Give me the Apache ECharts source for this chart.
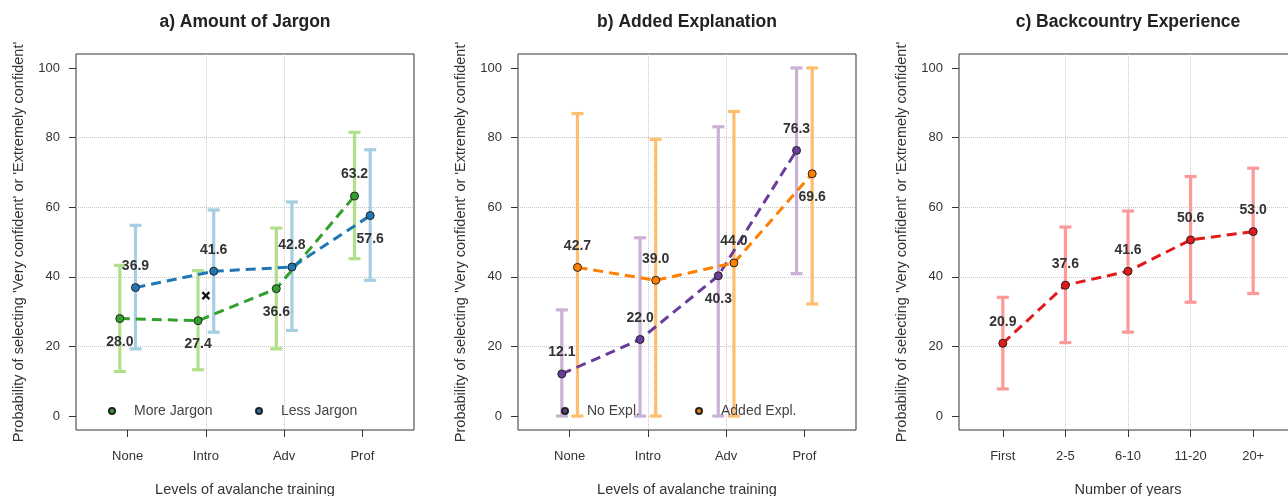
<!DOCTYPE html>
<html>
<head>
<meta charset="utf-8">
<script src="https://cdn.jsdelivr.net/npm/echarts@6/dist/echarts.min.js"></script>
<style>html,body{margin:0;padding:0;background:#fff;}#chart{width:1288px;height:496px;}</style>
</head>
<body>
<div id="chart"></div>
<script>
// ---- data ----
const categoriesTraining = ['None', 'Intro', 'Adv', 'Prof'];
const categoriesYears = ['First', '2-5', '6-10', '11-20', '20+'];
const yTicks = [0, 20, 40, 60, 80, 100];

const moreJargon = [28.0, 27.4, 36.6, 63.2];
const moreJargonLow = [12.8, 13.3, 19.3, 45.2];
const moreJargonHigh = [43.3, 41.8, 54.0, 81.5];
const lessJargon = [36.9, 41.6, 42.8, 57.6];
const lessJargonLow = [19.3, 24.1, 24.6, 39.0];
const lessJargonHigh = [54.8, 59.2, 61.5, 76.5];
const crossMarker = [[2, 34.6]];

const noExpl = [12.1, 22.0, 40.3, 76.3];
const noExplLow = [0, 0, 0, 40.9];
const noExplHigh = [30.5, 51.2, 83.1, 100];
const addedExpl = [42.7, 39.0, 44.0, 69.6];
const addedExplLow = [0, 0, 0, 32.2];
const addedExplHigh = [86.9, 79.5, 87.5, 100];

const experience = [20.9, 37.6, 41.6, 50.6, 53.0];
const experienceLow = [7.8, 21.1, 24.1, 32.7, 35.2];
const experienceHigh = [34.1, 54.3, 58.9, 68.8, 71.2];

// ---- styling ----
const FONT = "'Liberation Sans', Arial, sans-serif";
const OFF = 0.1;
const labelPos = {
  more: ['bottom', 'bottom', 'bottom', 'top'],
  less: ['top', 'top', 'top', 'bottom'],
  noE: ['top', 'top', 'bottom', 'top'],
  addE: ['top', 'top', 'top', 'bottom'],
  exp: ['top', 'top', 'top', 'top', 'top']
};

const panels = [
  {left: 76, min: 0.34, max: 4.66, cats: categoriesTraining, xname: 'Levels of avalanche training', title: 'a) Amount of Jargon'},
  {left: 518, min: 0.34, max: 4.66, cats: categoriesTraining, xname: 'Levels of avalanche training', title: 'b) Added Explanation'},
  {left: 959, min: 0.3, max: 5.7, cats: categoriesYears, xname: 'Number of years', title: 'c) Backcountry Experience'}
];
const W = 338, TOP = 54, H = 376;

const grids = [], xAxes = [], yAxes = [], graphics = [];
panels.forEach((p, i) => {
  grids.push({left: p.left, top: TOP, width: W, height: H, show: true, borderColor: '#333', borderWidth: 1,
    backgroundColor: 'transparent', containLabel: false, outerBoundsMode: 'none'});
  const ticks = p.cats.map((c, k) => k + 1);
  xAxes.push({
    type: 'value', gridIndex: i, min: p.min, max: p.max,
    name: p.xname, nameLocation: 'middle', nameGap: 52,
    nameTextStyle: {fontFamily: FONT, fontSize: 14.5, color: '#333'},
    axisLine: {show: false, onZero: false},
    axisTick: {show: true, length: 7, customValues: ticks, lineStyle: {color: '#333'}},
    axisLabel: {customValues: ticks, margin: 20, fontFamily: FONT, fontSize: 13, color: '#333',
      formatter: v => (Math.abs(v - Math.round(v)) < 1e-6 && p.cats[Math.round(v) - 1]) ? p.cats[Math.round(v) - 1] : ''},
    splitLine: {show: true, showMinLine: false, showMaxLine: false, lineStyle: {type: 'dotted', color: '#c8c8c8', width: 1}}
  });
  yAxes.push({
    type: 'value', gridIndex: i, min: -4, max: 104,
    name: "Probability of selecting 'Very confident' or 'Extremely confident'",
    nameLocation: 'middle', nameRotate: 90, nameGap: 50,
    nameTextStyle: {fontFamily: FONT, fontSize: 14.5, color: '#333'},
    axisLine: {show: false, onZero: false},
    axisTick: {show: true, length: 7, customValues: yTicks, lineStyle: {color: '#333'}},
    axisLabel: {customValues: yTicks, margin: 16, fontFamily: FONT, fontSize: 13, color: '#333'},
    splitLine: {show: true, showMinLine: false, showMaxLine: false, lineStyle: {type: 'dotted', color: '#c8c8c8', width: 1}}
  });
  graphics.push({type: 'text', x: p.left + W / 2, y: 22, z: 10,
    style: {text: p.title, textAlign: 'center', textVerticalAlign: 'middle', fontFamily: FONT, fontSize: 17.5, fontWeight: 'bold', fill: '#222'}});
});

function errorBars(name, idx, offset, lows, highs, color) {
  return {
    type: 'custom', name: name + ' CI', xAxisIndex: idx, yAxisIndex: idx, z: 1, silent: true,
    encode: {x: 0, y: [1, 2]},
    data: lows.map((lo, k) => [k + 1 + offset, lo, highs[k]]),
    renderItem: (params, api) => {
      const x = api.value(0);
      const a = api.coord([x, api.value(2)]);
      const b = api.coord([x, api.value(1)]);
      const st = {stroke: color, lineWidth: 3.2};
      const c = 6;
      return {type: 'group', children: [
        {type: 'line', shape: {x1: a[0], y1: a[1], x2: b[0], y2: b[1]}, style: st},
        {type: 'line', shape: {x1: a[0] - c, y1: a[1], x2: a[0] + c, y2: a[1]}, style: st},
        {type: 'line', shape: {x1: b[0] - c, y1: b[1], x2: b[0] + c, y2: b[1]}, style: st}
      ]};
    }
  };
}

function pointLine(name, idx, offset, values, positions, color) {
  return {
    type: 'line', name: name, xAxisIndex: idx, yAxisIndex: idx, z: 3,
    symbol: 'circle', symbolSize: 8,
    itemStyle: {color: color, borderColor: '#222', borderWidth: 1},
    lineStyle: {color: color, width: 3, type: [10, 6]},
    label: {show: true, fontFamily: FONT, fontSize: 14, fontWeight: 'bold', color: '#333',
      formatter: p => p.value[1].toFixed(1)},
    data: values.map((v, k) => ({
      value: [k + 1 + offset, v],
      label: {position: positions[k], distance: positions[k] === 'top' ? 10 : 12}
    }))
  };
}

const series = [
  errorBars('More Jargon', 0, -OFF, moreJargonLow, moreJargonHigh, '#b2df8a'),
  errorBars('Less Jargon', 0, OFF, lessJargonLow, lessJargonHigh, '#a6cee3'),
  pointLine('More Jargon', 0, -OFF, moreJargon, labelPos.more, '#33a02c'),
  pointLine('Less Jargon', 0, OFF, lessJargon, labelPos.less, '#1f78b4'),
  {
    type: 'custom', name: 'Overall', xAxisIndex: 0, yAxisIndex: 0, z: 4, silent: true,
    encode: {x: 0, y: 1}, data: crossMarker,
    renderItem: (params, api) => {
      const p = api.coord([api.value(0), api.value(1)]);
      const s = 3.5, st = {stroke: '#111', lineWidth: 2.2};
      return {type: 'group', children: [
        {type: 'line', shape: {x1: p[0] - s, y1: p[1] - s, x2: p[0] + s, y2: p[1] + s}, style: st},
        {type: 'line', shape: {x1: p[0] - s, y1: p[1] + s, x2: p[0] + s, y2: p[1] - s}, style: st}
      ]};
    }
  },
  errorBars('No Expl.', 1, -OFF, noExplLow, noExplHigh, '#cab2d6'),
  errorBars('Added Expl.', 1, OFF, addedExplLow, addedExplHigh, '#fdbf6f'),
  pointLine('No Expl.', 1, -OFF, noExpl, labelPos.noE, '#6a3d9a'),
  pointLine('Added Expl.', 1, OFF, addedExpl, labelPos.addE, '#ff7f00'),
  errorBars('Experience', 2, 0, experienceLow, experienceHigh, '#fb9a99'),
  pointLine('Experience', 2, 0, experience, labelPos.exp, '#e31a1c')
];

function legendAt(name, left) {
  return {data: [name], left: left, top: 404, icon: 'circle', itemWidth: 6, itemHeight: 6,
    selectedMode: false, padding: 0,
    textStyle: {fontFamily: FONT, fontSize: 14, color: '#444', padding: [0, 0, 0, 14]}};
}

const chart = echarts.init(document.getElementById('chart'), null, {renderer: 'canvas'});
chart.setOption({
  animation: false,
  backgroundColor: '#fff',
  grid: grids, xAxis: xAxes, yAxis: yAxes,
  legend: [legendAt('More Jargon', 108), legendAt('Less Jargon', 255), legendAt('No Expl.', 561), legendAt('Added Expl.', 695)],
  graphic: graphics,
  series: series
});
</script>
</body>
</html>
